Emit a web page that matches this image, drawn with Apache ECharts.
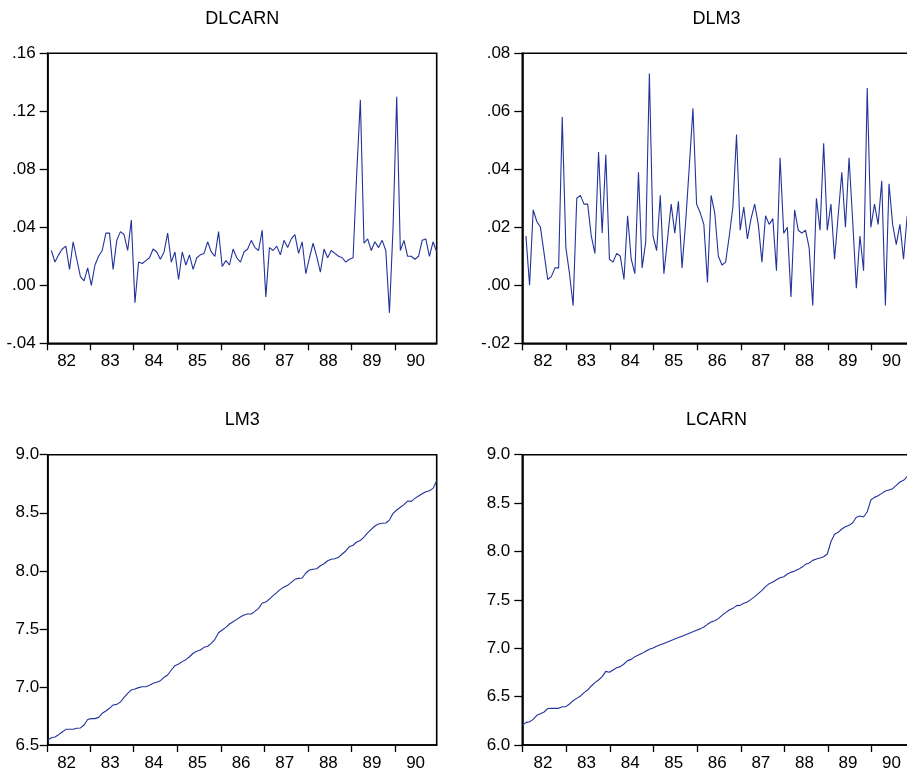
<!DOCTYPE html>
<html>
<head>
<meta charset="utf-8">
<script src="https://cdn.jsdelivr.net/npm/echarts@6/dist/echarts.min.js"></script>
<style>
html,body{margin:0;padding:0;background:#ffffff;}
#chart{width:907px;height:775px;}
</style>
</head>
<body>
<div id="chart"></div>
<script>
// ---- data (monthly, 1982M01 .. 1990M12; differenced series start 1982M02) ----
const yearLabels = ['82','83','84','85','86','87','88','89','90'];

const dlcarn = [0.024,0.016,0.021,0.025,0.027,0.011,0.030,0.018,0.006,0.003,0.012,0.000,
  0.014,0.020,0.024,0.036,0.036,0.011,0.031,0.037,0.035,0.024,0.045,-0.012,
  0.016,0.015,0.017,0.019,0.025,0.023,0.018,0.023,0.036,0.016,0.023,0.004,
  0.023,0.014,0.021,0.011,0.019,0.021,0.022,0.030,0.023,0.020,0.037,0.013,
  0.017,0.014,0.025,0.019,0.016,0.023,0.025,0.031,0.026,0.024,0.038,-0.008,
  0.026,0.024,0.027,0.021,0.031,0.026,0.032,0.035,0.022,0.030,0.008,0.019,
  0.029,0.020,0.009,0.025,0.019,0.024,0.022,0.020,0.019,0.016,0.018,0.019,
  0.077,0.128,0.029,0.032,0.024,0.030,0.026,0.031,0.024,-0.019,0.040,0.130,
  0.024,0.031,0.020,0.020,0.018,0.020,0.031,0.032,0.020,0.030,0.023];

const dlm3 = [0.017,0.000,0.026,0.022,0.020,0.011,0.002,0.003,0.006,0.006,0.058,
  0.013,0.004,-0.007,0.030,0.031,0.028,0.028,0.017,0.011,0.046,0.018,0.045,
  0.009,0.008,0.011,0.010,0.002,0.024,0.009,0.004,0.039,0.006,0.015,0.073,
  0.017,0.012,0.031,0.004,0.016,0.028,0.018,0.029,0.006,0.022,0.041,0.061,
  0.028,0.025,0.021,0.001,0.031,0.025,0.010,0.007,0.008,0.017,0.027,0.052,
  0.019,0.027,0.016,0.023,0.028,0.021,0.008,0.024,0.021,0.023,0.005,0.044,
  0.018,0.020,-0.004,0.026,0.019,0.018,0.019,0.013,-0.007,0.030,0.019,0.049,
  0.019,0.028,0.009,0.024,0.039,0.020,0.044,0.022,-0.001,0.017,0.005,0.068,
  0.020,0.028,0.021,0.036,-0.007,0.035,0.021,0.014,0.021,0.009,0.024,0.020];

const lm3 = [6.543,6.563,6.569,6.589,6.612,6.635,6.635,6.635,6.644,6.647,6.672,6.720,
  6.727,6.727,6.738,6.773,6.793,6.816,6.845,6.850,6.870,6.910,6.945,6.974,
  6.982,6.994,7.002,7.002,7.014,7.031,7.040,7.054,7.083,7.103,7.146,7.183,
  7.198,7.218,7.235,7.260,7.290,7.307,7.318,7.341,7.350,7.375,7.410,7.467,
  7.490,7.513,7.542,7.562,7.582,7.602,7.620,7.628,7.628,7.651,7.677,7.723,
  7.731,7.757,7.786,7.812,7.840,7.860,7.875,7.900,7.927,7.935,7.938,7.981,
  8.007,8.013,8.018,8.044,8.061,8.087,8.099,8.104,8.116,8.145,8.171,8.208,
  8.220,8.248,8.262,8.291,8.326,8.357,8.386,8.403,8.409,8.412,8.437,8.495,
  8.524,8.547,8.570,8.601,8.598,8.624,8.644,8.664,8.681,8.690,8.710,8.776];

const lcarn = [6.207,6.231,6.241,6.265,6.307,6.324,6.341,6.376,6.379,6.379,6.379,6.396,
  6.396,6.424,6.458,6.482,6.506,6.541,6.568,6.610,6.644,6.672,6.706,6.761,
  6.751,6.775,6.799,6.810,6.837,6.872,6.885,6.913,6.930,6.947,6.968,6.989,
  7.002,7.020,7.035,7.050,7.065,7.080,7.095,7.110,7.125,7.140,7.155,7.170,
  7.185,7.200,7.220,7.247,7.271,7.285,7.306,7.340,7.368,7.395,7.412,7.440,
  7.443,7.464,7.478,7.505,7.533,7.564,7.598,7.636,7.667,7.684,7.708,7.729,
  7.739,7.767,7.784,7.798,7.815,7.836,7.867,7.881,7.908,7.922,7.932,7.946,
  7.974,8.100,8.177,8.198,8.232,8.256,8.270,8.297,8.353,8.366,8.356,8.410,
  8.532,8.559,8.576,8.600,8.625,8.635,8.649,8.683,8.718,8.735,8.773,8.790];

// ---- styling / layout ----
const FONT = '"Liberation Sans", Arial, Helvetica, sans-serif';
const LINE = '#22339a';
const BLACK = '#000000';

function dotFmt(v) {
  let s = (Math.abs(v) < 1e-9 ? 0 : v).toFixed(2);
  return s.replace(/^(-?)0\./, '$1.');
}
function oneFmt(v) { return v.toFixed(1); }

const panels = [
  {title:'DLCARN', data:dlcarn, start:1, left:47.7, top:53.3, width:389, height:290,
   ymin:-0.04, ymax:0.16, yint:0.04, fmt:dotFmt, tickShift:-0.4, labelShift:5.2, yMargin:12},
  {title:'DLM3', data:dlm3, start:1, left:522.3, top:53.3, width:388.5, height:290,
   ymin:-0.02, ymax:0.08, yint:0.02, fmt:dotFmt, tickShift:0.2, labelShift:5.7, yMargin:12},
  {title:'LM3', data:lm3, start:0, left:47.7, top:454.7, width:389, height:290.3,
   ymin:6.5, ymax:9.0, yint:0.5, fmt:oneFmt, tickShift:-0.4, labelShift:5.2, yMargin:8.5},
  {title:'LCARN', data:lcarn, start:0, left:522.3, top:454.7, width:388.5, height:290.3,
   ymin:6.0, ymax:9.0, yint:0.5, fmt:oneFmt, tickShift:0.2, labelShift:5.7, yMargin:12}
];

const grids = [], xAxes = [], yAxes = [], series = [], graphics = [];
panels.forEach((p, i) => {
  grids.push({
    left:p.left, top:p.top, width:p.width, height:p.height,
    show:true, borderColor:BLACK, borderWidth:1.6, backgroundColor:'transparent',
    containLabel:false, outerBoundsMode:'none'
  });
  const ticks = [0];
  for (let k = 1; k < yearLabels.length; k++) ticks.push(12 * k + p.tickShift);
  const labelPos = yearLabels.map((_, k) => 12 * k + p.labelShift);
  xAxes.push({
    type:'value', gridIndex:i, min:0, max:107,
    axisLine:{show:true, onZero:false, lineStyle:{color:BLACK, width:1.6}},
    axisTick:{show:true, length:7, lineStyle:{color:BLACK, width:1.3}, customValues:ticks},
    axisLabel:{
      show:true, customValues:labelPos, margin:10,
      color:BLACK, fontSize:17, fontFamily:FONT,
      formatter:(v) => yearLabels[Math.round((v - p.labelShift) / 12)] || ''
    },
    splitLine:{show:false}
  });
  yAxes.push({
    type:'value', gridIndex:i, min:p.ymin, max:p.ymax, interval:p.yint,
    axisLine:{show:true, onZero:false, lineStyle:{color:BLACK, width:1.6}},
    axisTick:{show:true, length:8, lineStyle:{color:BLACK, width:1.3}},
    axisLabel:{show:true, margin:p.yMargin, color:BLACK, fontSize:17, fontFamily:FONT,
      formatter:p.fmt},
    splitLine:{show:false}
  });
  series.push({
    type:'line', xAxisIndex:i, yAxisIndex:i,
    data:p.data.map((v, j) => [j + p.start, v]),
    showSymbol:false, symbol:'none', silent:true, animation:false,
    lineStyle:{color:LINE, width:1.1}, itemStyle:{color:LINE}
  });
  graphics.push({
    type:'text', x:p.left + p.width / 2, y:p.top - 34.5, silent:true,
    style:{text:p.title, fill:BLACK, font:'18px ' + FONT,
      textAlign:'center', textVerticalAlign:'middle'}
  });
});

const chart = echarts.init(document.getElementById('chart'), null, {renderer:'canvas'});
chart.setOption({
  animation:false,
  backgroundColor:'#ffffff',
  grid:grids, xAxis:xAxes, yAxis:yAxes, series:series,
  graphic:graphics
});
</script>
</body>
</html>
